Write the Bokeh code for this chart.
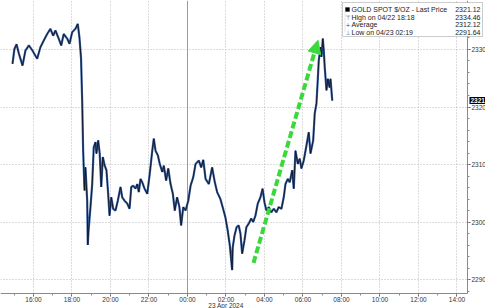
from bokeh.plotting import figure
from bokeh.models import (Range1d, FixedTicker, Span, Arrow, NormalHead, Label,
                          BoxAnnotation, ColumnDataSource)
from bokeh.embed import file_html
from bokeh.resources import INLINE

# ---- data: hours since 22 Apr 2024 00:00, gold spot price ----
hours = [14.91, 15.01, 15.12, 15.24, 15.43, 15.58, 15.76, 15.93, 16.19, 16.36,
         16.54, 16.71, 16.88, 17.02, 17.14, 17.31, 17.44, 17.57, 17.75, 17.87,
         18.01, 18.18, 18.30, 18.39, 18.47, 18.53, 18.58, 18.65, 18.70, 18.79,
         18.82, 18.86, 18.96, 19.05, 19.13, 19.22, 19.27, 19.36, 19.44, 19.52,
         19.60, 19.70, 19.79, 19.88, 19.95, 20.04, 20.14, 20.26, 20.38, 20.52,
         20.61, 20.73, 20.87, 20.99, 21.08, 21.18, 21.30, 21.39, 21.47, 21.56,
         21.65, 21.77, 21.91, 22.04, 22.17, 22.25, 22.34, 22.46, 22.56, 22.69,
         22.77, 22.89, 23.00, 23.12, 23.24, 23.34, 23.46, 23.58, 23.67, 23.78,
         23.90, 24.04, 24.16, 24.30, 24.42, 24.59, 24.71, 24.82, 24.94, 25.11,
         25.28, 25.42, 25.54, 25.71, 25.85, 25.97, 26.09, 26.20, 26.32, 26.35,
         26.44, 26.55, 26.66, 26.75, 26.84, 26.96, 27.06, 27.18, 27.31, 27.41,
         27.53, 27.65, 27.79, 27.90, 28.00, 28.10, 28.22, 28.35, 28.48, 28.62,
         28.74, 28.88, 29.00, 29.09, 29.21, 29.31, 29.44, 29.52, 29.61, 29.73,
         29.83, 29.92, 30.04, 30.18, 30.30, 30.39, 30.53, 30.61, 30.70, 30.77,
         30.82, 30.91, 30.96, 31.03, 31.08, 31.13, 31.22, 31.29, 31.38, 31.43,
         31.52]
prices = [2327.5, 2330.1, 2330.9, 2329.3, 2327.2, 2329.8, 2330.7, 2329.9, 2328.4, 2330.4,
          2331.6, 2332.7, 2333.6, 2332.4, 2333.3, 2331.9, 2330.7, 2332.7, 2331.9, 2331.0,
          2333.0, 2333.6, 2334.46, 2332.0, 2328.5, 2321.0, 2312.4, 2305.5, 2309.5, 2303.7,
          2296.0, 2298.5, 2302.6, 2306.6, 2313.0, 2313.9, 2311.9, 2314.2, 2311.9, 2306.1,
          2311.3, 2309.8, 2309.0, 2304.9, 2301.1, 2304.3, 2302.3, 2302.0, 2303.7, 2306.1,
          2304.3, 2303.7, 2303.2, 2302.3, 2306.1, 2306.3, 2305.8, 2306.6, 2305.2, 2307.5,
          2306.9, 2305.8, 2304.9, 2308.4, 2312.4, 2314.5, 2312.4, 2311.6, 2310.1, 2308.7,
          2309.8, 2307.2, 2309.3, 2306.6, 2304.9, 2302.0, 2304.3, 2302.6, 2299.4, 2302.6,
          2302.0, 2303.7, 2306.3, 2307.8, 2310.1, 2310.7, 2309.5, 2310.8, 2307.5, 2306.6,
          2309.5, 2306.9, 2305.2, 2304.0, 2302.3, 2300.8, 2298.5, 2295.9, 2291.64, 2295.6,
          2297.6, 2299.1, 2299.4, 2298.0, 2294.5, 2296.8, 2299.1, 2299.7, 2300.6, 2300.0,
          2301.1, 2303.2, 2304.3, 2305.8, 2303.4, 2302.0, 2302.6, 2301.7, 2302.3, 2301.7,
          2302.6, 2302.3, 2304.3, 2306.6, 2307.5, 2306.9, 2309.0, 2305.8, 2312.4, 2310.1,
          2311.0, 2309.3, 2310.7, 2313.3, 2315.6, 2311.9, 2314.2, 2318.9, 2320.6, 2324.9,
          2328.1, 2330.4, 2328.7, 2331.9, 2329.8, 2326.9, 2322.9, 2324.9, 2323.4, 2324.9,
          2321.12]

x_ticks = [16, 18, 20, 22, 24, 26, 28, 30, 32, 34, 36, 38]
x_tick_labels = ["16:00", "18:00", "20:00", "22:00", "00:00", "02:00",
                 "04:00", "06:00", "08:00", "10:00", "12:00", "14:00"]
y_ticks = [2290, 2300, 2310, 2320, 2330]
date_label = "23 Apr 2024"
date_at = 26

legend_names = ["GOLD SPOT $/OZ - Last Price", "High on 04/22 18:18",
                "Average", "Low on 04/23 02:19"]
legend_values = ["2321.12", "2334.46", "2312.12", "2291.64"]
legend_icons = ["", "\u22a4", "+", "\u22a5"]
last_price = 2321.12
last_tag = "2321"
arrow_start = (27.43, 2292.9)
arrow_end = (30.78, 2331.6)

# visible window (axes sit inside the canvas at x_axis_end / y_axis_base)
x_lo, x_hi = 14.286, 39.481
y_lo, y_hi = 2284.96, 2338.52
x_axis_end = 38.545
y_axis_base = 2287.565

FONT = "Liberation Sans"
TICKFONT = "'Liberation Sans Narrow', 'Liberation Sans', sans-serif"
GREEN = "#3ad83a"
W, H = 485, 308

p = figure(width=W, height=H, output_backend="svg", toolbar_location=None,
           x_range=Range1d(x_lo, x_hi), y_range=Range1d(y_lo, y_hi),
           y_axis_location="right", min_border=0)
p.outline_line_color = None
p.background_fill_color = "white"
p.border_fill_color = "white"

xa = p.xaxis[0]
xa.fixed_location = y_axis_base
xa.bounds = (x_lo, x_axis_end)
xa.ticker = FixedTicker(ticks=x_ticks, minor_ticks=list(range(15, 39)))
xa.major_label_overrides = {t: l for t, l in zip(x_ticks, x_tick_labels)}
xa.major_label_standoff = -1
ya = p.yaxis[0]
ya.fixed_location = x_axis_end
ya.bounds = (y_axis_base, y_hi)
ya.ticker = FixedTicker(ticks=y_ticks, minor_ticks=list(range(2288, 2339, 2)))
ya.major_label_standoff = 1
for ax in (xa, ya):
    ax.axis_line_color = "#8a8a8a"
    ax.major_tick_line_color = "#555555"
    ax.minor_tick_line_color = "#8a8a8a"
    ax.major_tick_out = 3
    ax.major_tick_in = 0
    ax.minor_tick_out = 2
    ax.minor_tick_in = 0
    ax.major_label_text_font = TICKFONT
    ax.major_label_text_font_size = "6.5px"
    ax.major_label_text_color = "#333333"

for g in (p.xgrid[0], p.ygrid[0]):
    g.grid_line_color = "#b8b8b8"
    g.grid_line_dash = "1 2"
    g.grid_line_width = 1
p.xgrid[0].ticker = FixedTicker(ticks=x_ticks)
p.ygrid[0].ticker = FixedTicker(ticks=y_ticks)

# day separator
p.add_layout(Span(location=24, dimension="height", line_color="#9a9a9a",
                  line_width=1, level="underlay"))
# blank the area outside the axes
p.add_layout(BoxAnnotation(left=x_axis_end, fill_color="white", fill_alpha=1,
                           line_alpha=0, level="underlay"))
p.add_layout(BoxAnnotation(top=y_axis_base, fill_color="white", fill_alpha=1,
                           line_alpha=0, level="underlay"))

src = ColumnDataSource(dict(h=hours, v=prices))
p.line("h", "v", source=src, line_color="#3a5f9f", line_width=2.2)
p.line("h", "v", source=src, line_color="#0c1426", line_width=0.9)

# green arrow
p.add_layout(Arrow(end=NormalHead(size=13, fill_color=GREEN, line_color=GREEN),
                   x_start=arrow_start[0], y_start=arrow_start[1],
                   x_end=arrow_end[0], y_end=arrow_end[1],
                   line_color=GREEN, line_width=4, line_dash="7 3"))

# date label under 02:00
p.add_layout(Label(x=date_at, y=3, y_units="screen", text=date_label,
                   text_font=TICKFONT, text_font_size="6.5px", text_color="#333333",
                   text_align="center", text_baseline="middle"))

# last price tag
p.add_layout(Label(x=469, x_units="screen", y=last_price, text=last_tag,
                   text_font=TICKFONT, text_font_size="6.5px", text_color="white",
                   text_font_style="bold", background_fill_color="black",
                   text_align="left", text_baseline="middle", padding=1))

# legend box (screen units: y measured from bottom of canvas)
p.add_layout(BoxAnnotation(left=342, right=482, top=H - 2, bottom=H - 36,
                           left_units="screen", right_units="screen",
                           top_units="screen", bottom_units="screen",
                           fill_color="white", fill_alpha=1,
                           line_color="#555555", line_width=1))
# dotted tree line joining the legend rows
p.add_layout(BoxAnnotation(left=344.5, right=344.5, top=H - 11, bottom=H - 32,
                           left_units="screen", right_units="screen",
                           top_units="screen", bottom_units="screen",
                           fill_alpha=0, line_color="#999999", line_width=0.8,
                           line_dash="1 1"))
rows_y = [9, 16.5, 24, 31.5]
for name, val, icon, ry in zip(legend_names, legend_values, legend_icons, rows_y):
    p.add_layout(Label(x=351, x_units="screen", y=H - ry, y_units="screen", text=name,
                       text_font=FONT, text_font_size="7px", text_color="#222222",
                       text_baseline="middle"))
    p.add_layout(Label(x=480, x_units="screen", y=H - ry, y_units="screen", text=val,
                       text_font=FONT, text_font_size="7px", text_color="#222222",
                       text_align="right", text_baseline="middle"))
    if icon:
        p.add_layout(Label(x=347.5, x_units="screen", y=H - ry, y_units="screen", text=icon,
                           text_font="DejaVu Sans", text_font_size="6px", text_color="#555555",
                           text_align="center", text_baseline="middle"))
p.add_layout(BoxAnnotation(left=345, right=349, top=H - 7, bottom=H - 11,
                           left_units="screen", right_units="screen",
                           top_units="screen", bottom_units="screen",
                           fill_color="black", fill_alpha=1, line_color="black"))

open("out.html", "w").write(file_html(p, INLINE))
